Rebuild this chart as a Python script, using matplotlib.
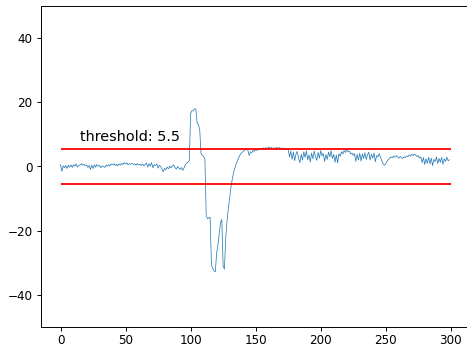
import numpy as np
import matplotlib
matplotlib.use("Agg")
import matplotlib.pyplot as plt

threshold = 5.5

# samples 0-99: quiet baseline
signal_a = [
    0.6, -1.5, 0.2, -0.4, 0.3, -0.6, 0.4, -0.2, 0.5, -0.3,
    0.6, 0.1, 0.8, -0.2, 0.3, 0.5, 0.9, 0.4, 0.7, 0.2,
    0.5, -0.3, 0.3, -0.9, 0.4, -0.6, 0.5, -0.2, 0.6, 0.1,
    0.3, -0.4, 0.2, 0.0, -0.3, 0.4, 0.1, 0.6, 0.2, 0.8,
    0.5, 0.9, 0.3, 0.7, 0.2, 0.8, 0.4, 1.0, 0.6, 1.2,
    0.8, 1.1, 0.5, 0.9, 0.7, 1.0, 0.6, 0.8, 0.4, 0.9,
    0.5, 0.7, 0.3, 0.8, 0.2, 0.6, 1.1, -0.2, 0.9, 0.1,
    1.2, -0.4, 0.6, 0.3, 0.8, -0.5, 0.4, 0.0, -0.8, -1.6,
    -0.6, -1.0, -0.2, -0.7, 0.1, -0.4, 0.2, 0.5, -0.3, -0.8,
    0.0, -0.5, -0.9, -0.3, -1.2, -0.4, 0.6, 1.0, 1.4, 1.7,
]

# samples 100-175: the event
signal_b = [
    16.5, 17.4, 17.3, 18.0, 17.9, 13.6, 13.0, 11.5, 4.0, 3.5,
    3.1, 2.2, -15.2, -16.3, -16.0, -15.8, -30.5, -31.8, -32.5, -32.8,
    -27.0, -24.5, -21.0, -17.5, -16.5, -31.0, -32.0, -22.0, -17.0, -13.0,
    -10.0, -6.5, -4.0, -2.0, -0.5, 0.8, 1.8, 2.8, 3.6, 4.2,
    4.6, 4.9, 5.2, 5.5, 5.1, 3.4, 4.6, 4.3, 5.0, 4.7,
    5.3, 5.0, 5.5, 5.2, 5.6, 5.3, 5.8, 5.4, 5.9, 5.5,
    6.1, 5.7, 5.9, 5.6, 5.8, 5.5, 6.0, 5.6, 5.9, 5.7,
    5.5, 5.8, 5.3, 5.6, 5.2, 5.5,
]

# samples 176-299: noisy tail
signal_c = [
    3.0, 4.8, 2.2, 4.5, 1.8, 3.9, 4.7, 2.5, 1.2, 3.8,
    2.0, 4.6, 2.8, 4.9, 2.1, 3.6, 1.4, 4.2, 2.4, 4.8,
    3.1, 1.9, 4.4, 2.6, 4.9, 3.3, 4.1, 1.6, 3.7, 2.2,
    4.5, 3.0, 4.9, 2.5, 3.8, 1.3, 3.6, 1.1, 4.0, 3.2,
    4.6, 3.9, 5.0, 4.4, 5.2, 4.6, 4.8, 3.9, 4.2, 3.5,
    4.0, 1.6, 3.8, 2.0, 4.1, 1.7, 3.9, 2.5, 4.3, 2.2,
    3.6, 4.5, 2.0, 3.8, 2.6, 4.2, 1.5, 3.4, 3.0, 4.0,
    2.8, 1.8, 0.8, 0.4, 0.9, 1.6, 2.2, 2.6, 3.0, 2.7,
    3.2, 2.9, 3.4, 3.0, 2.6, 3.1, 2.8, 2.5, 3.0, 2.8,
    3.3, 3.1, 3.6, 3.2, 3.8, 3.4, 3.9, 3.5, 3.1, 3.4,
    2.6, 3.0, 1.2, 2.8, 0.6, 2.4, 1.0, 2.9, 0.8, 2.6,
    0.3, 2.2, 1.5, 3.0, 0.9, 2.5, 1.3, 2.8, 0.7, 2.4,
    1.6, 2.9, 1.8, 2.1,
]

signal = np.array(signal_a + signal_b + signal_c)

dpi = 86.4
fig = plt.figure(figsize=(467 / dpi, 346 / dpi), dpi=dpi)
ax = fig.add_axes([41 / 467, 19 / 346, 428 / 467, 321 / 346])

ax.plot(np.arange(len(signal)), signal, lw=0.6, color='C0')
ax.hlines([threshold, -threshold], 0, len(signal), colors='red', lw=1.5)
ax.text(15, threshold + 2.5, 'threshold: %s' % threshold, fontsize=12)

ax.set_xlim(-15, 314)
ax.set_ylim(-50, 50)
ax.tick_params(axis='x', pad=2.5)

fig.savefig('out.png', dpi=dpi)
